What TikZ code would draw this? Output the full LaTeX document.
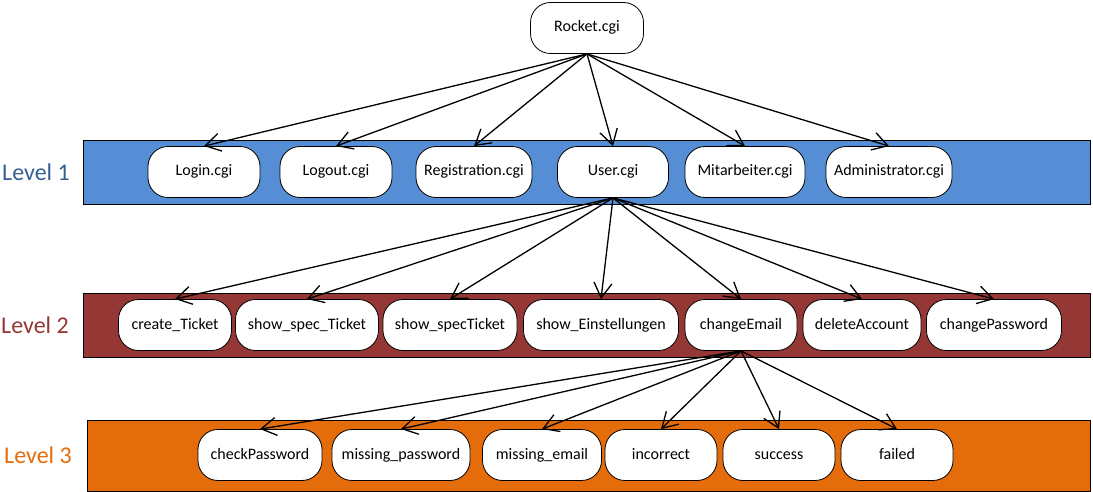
\documentclass[tikz,border=0pt]{standalone}
\usepackage{fontspec}
\setmainfont{Carlito}
\usepackage{xcolor}
\usetikzlibrary{arrows.meta}

\definecolor{barone}{RGB}{85,142,213}
\definecolor{bartwo}{RGB}{149,55,53}
\definecolor{barthree}{RGB}{228,108,10}
\definecolor{txtone}{RGB}{54,95,145}
\definecolor{txttwo}{RGB}{149,55,53}
\definecolor{txtthree}{RGB}{228,108,10}

\begin{document}
\begin{tikzpicture}[
    x=1pt,y=-1pt,
    every node/.style={font=\fontsize{16}{18}\selectfont,align=center},
    script/.style={
        rounded corners=20pt,
        draw=black,
        fill=white,
        line width=0.8pt,
        minimum height=51pt,
        text height=11.5pt,
        text depth=3.5pt,
        inner sep=2pt
    },
    levelbar/.style={
        draw=black,
        line width=1.2pt,
        anchor=north west,
        inner sep=0pt
    },
    levellabel/.style={font=\fontsize{24}{28}\selectfont},
    arrow/.style={-{Straight Barb[length=15pt,width=18pt]},line width=1.3pt}
]
\useasboundingbox (0,0) rectangle (1093,492);

% Level bars
\node[levelbar, fill=barone, minimum width=1007pt, minimum height=64pt] (barone) at (83,140) {};
\node[levelbar, fill=bartwo, minimum width=1007pt, minimum height=64pt] (bartwo) at (83,293) {};
\node[levelbar, fill=barthree, minimum width=1003pt, minimum height=71pt] (barthree) at (87,420) {};

\node[levellabel, text=txtone] (lblone) at (36,172) {Level 1};
\node[levellabel, text=txttwo] (lbltwo) at (35,325) {Level 2};
\node[levellabel, text=txtthree] (lblthree) at (38,455) {Level 3};

% Top
\node[script, minimum width=113pt] (rocket) at (587,28) {Rocket.cgi};

% Level 1
\node[script, minimum width=112pt] (login) at (204,172) {Login.cgi};
\node[script, minimum width=112pt] (logout) at (336,172) {Logout.cgi};
\node[script, minimum width=116pt] (registration) at (474,172) {Registration.cgi};
\node[script, minimum width=111pt] (user) at (613,172) {User.cgi};
\node[script, minimum width=120pt] (mitarbeiter) at (745,172) {Mitarbeiter.cgi};
\node[script, minimum width=126pt] (administrator) at (889,172) {Administrator.cgi};

% Level 2
\node[script, minimum width=113pt] (createticket) at (175,325) {create\_Ticket};
\node[script, minimum width=143pt] (showspecticketa) at (307,325) {show\_spec\_Ticket};
\node[script, minimum width=134pt] (showspecticketb) at (450,325) {show\_specTicket};
\node[script, minimum width=155pt] (showeinst) at (601,325) {show\_Einstellungen};
\node[script, minimum width=112pt] (changeemail) at (741,325) {changeEmail};
\node[script, minimum width=118pt] (deleteaccount) at (862,325) {deleteAccount};
\node[script, minimum width=135pt] (changepassword) at (994,325) {changePassword};

% Level 3
\node[script, minimum width=124pt] (checkpassword) at (260,455) {checkPassword};
\node[script, minimum width=138pt] (missingpassword) at (401,455) {missing\_password};
\node[script, minimum width=119pt] (missingemail) at (542,455) {missing\_email};
\node[script, minimum width=112pt] (incorrect) at (661,455) {incorrect};
\node[script, minimum width=112pt] (success) at (779,455) {success};
\node[script, minimum width=112pt] (failed) at (897,455) {failed};

% Arrows
\foreach \target in {login,logout,registration,user,mitarbeiter,administrator}
    \draw[arrow] (rocket.south) -- (\target.north);
\foreach \target in {createticket,showspecticketa,showspecticketb,showeinst,changeemail,deleteaccount,changepassword}
    \draw[arrow] (user.south) -- (\target.north);
\foreach \target in {checkpassword,missingpassword,missingemail,incorrect,success,failed}
    \draw[arrow] (changeemail.south) -- (\target.north);

\end{tikzpicture}
\end{document}
